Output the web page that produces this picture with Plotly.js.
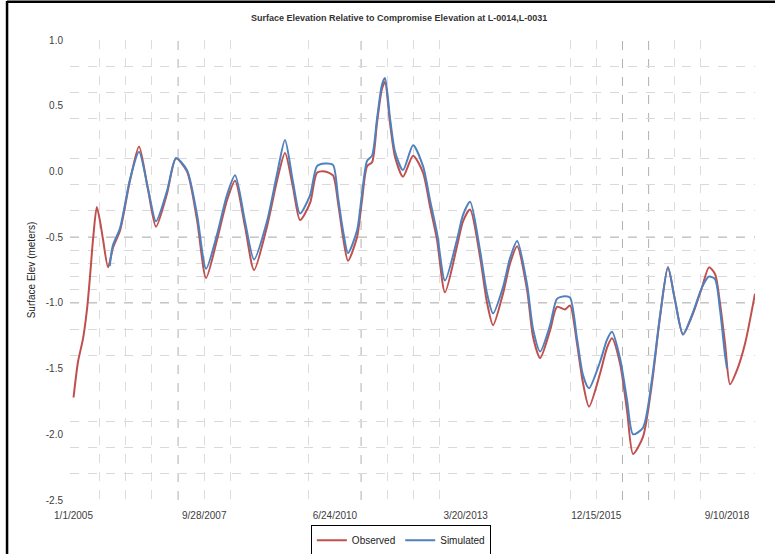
<!DOCTYPE html>
<html>
<head>
<meta charset="utf-8">
<script src="https://cdn.plot.ly/plotly-3.0.1.min.js"></script>
<style>html,body{margin:0;padding:0;background:#fff;}#chart{width:775px;height:554px;}</style>
</head>
<body>
<div id="chart"></div>
<script>
// ---- Data ----
const obsDates = ['2005-01-01','2005-02-04','2005-03-15','2005-04-14','2005-05-07','2005-05-30','2005-06-28','2005-07-23','2005-08-15','2005-09-22','2005-10-30','2005-12-23','2006-03-09','2006-05-17','2006-07-25','2006-09-24','2006-12-17','2007-02-24','2007-05-19','2007-08-04','2007-10-12','2008-01-04','2008-03-20','2008-05-21','2008-08-05','2008-10-13','2009-01-20','2009-04-07','2009-06-07','2009-08-07','2009-09-30','2009-12-16','2010-02-07','2010-04-09','2010-06-09','2010-07-18','2010-08-25','2010-10-02','2010-12-10','2011-01-17','2011-02-25','2011-04-04','2011-05-12','2011-06-19','2011-07-12','2011-08-19','2011-09-27','2011-11-27','2012-02-12','2012-04-28','2012-06-21','2012-08-13','2012-10-13','2013-01-13','2013-02-28','2013-04-23','2013-07-08','2013-08-31','2013-10-16','2013-12-31','2014-02-23','2014-04-18','2014-07-03','2014-08-18','2014-10-11','2014-12-26','2015-02-17','2015-04-19','2015-05-28','2015-07-20','2015-09-04','2015-10-20','2016-01-12','2016-03-06','2016-04-13','2016-06-13','2016-08-06','2016-09-21','2016-12-06','2017-02-13','2017-04-15','2017-06-15','2017-08-08','2017-10-08','2017-12-24','2018-03-03','2018-04-25','2018-06-10','2018-07-18','2018-08-26','2018-10-03','2018-11-26','2019-01-26','2019-04-12'];
const observed = [-1.72,-1.45,-1.27,-1.05,-0.80,-0.52,-0.27,-0.38,-0.52,-0.73,-0.58,-0.45,-0.07,0.19,-0.14,-0.42,-0.17,0.10,0.00,-0.37,-0.81,-0.52,-0.22,-0.07,-0.42,-0.75,-0.42,-0.07,0.14,-0.12,-0.37,-0.24,-0.01,0.00,-0.03,-0.24,-0.50,-0.68,-0.50,-0.22,0.04,0.07,0.37,0.63,0.68,0.37,0.11,-0.04,0.12,-0.01,-0.27,-0.52,-0.92,-0.57,-0.38,-0.29,-0.65,-1.00,-1.17,-0.93,-0.70,-0.57,-0.90,-1.26,-1.42,-1.21,-1.03,-1.05,-1.02,-1.31,-1.61,-1.79,-1.54,-1.34,-1.27,-1.46,-1.82,-2.15,-2.02,-1.61,-1.11,-0.73,-0.98,-1.24,-1.08,-0.88,-0.73,-0.78,-1.00,-1.31,-1.62,-1.51,-1.31,-0.93];

const simDates = ['2005-10-05','2005-10-30','2005-12-23','2006-03-09','2006-05-17','2006-07-25','2006-09-24','2006-12-17','2007-02-24','2007-05-19','2007-08-04','2007-10-12','2008-01-04','2008-03-20','2008-05-21','2008-08-05','2008-10-13','2009-01-20','2009-04-07','2009-06-07','2009-08-07','2009-09-30','2009-12-16','2010-02-07','2010-04-09','2010-06-09','2010-07-18','2010-08-25','2010-10-02','2010-12-10','2011-01-17','2011-02-25','2011-04-04','2011-05-12','2011-06-19','2011-07-12','2011-08-19','2011-09-27','2011-11-27','2012-02-12','2012-04-28','2012-06-21','2012-08-13','2012-10-13','2013-01-13','2013-02-28','2013-04-23','2013-07-08','2013-08-31','2013-10-16','2013-12-31','2014-02-23','2014-04-18','2014-07-03','2014-08-18','2014-10-11','2014-12-26','2015-02-17','2015-04-19','2015-05-28','2015-07-20','2015-09-04','2015-10-20','2016-01-12','2016-03-06','2016-04-13','2016-06-13','2016-08-06','2016-09-21','2016-12-06','2017-02-13','2017-04-15','2017-06-15','2017-08-08','2017-10-08','2017-12-24','2018-03-03','2018-04-25','2018-06-10','2018-07-18','2018-08-26','2018-09-10'];
const simulated = [-0.72,-0.56,-0.43,-0.06,0.15,-0.13,-0.38,-0.15,0.10,0.01,-0.33,-0.74,-0.48,-0.18,-0.03,-0.38,-0.67,-0.38,-0.02,0.24,-0.08,-0.32,-0.18,0.04,0.06,0.05,-0.20,-0.45,-0.62,-0.45,-0.17,0.08,0.12,0.40,0.66,0.71,0.41,0.15,0.01,0.20,0.04,-0.22,-0.47,-0.83,-0.52,-0.33,-0.23,-0.60,-0.93,-1.08,-0.88,-0.66,-0.53,-0.86,-1.20,-1.37,-1.17,-0.97,-0.95,-0.96,-1.27,-1.55,-1.65,-1.45,-1.28,-1.22,-1.42,-1.74,-2.00,-1.95,-1.58,-1.10,-0.73,-0.98,-1.24,-1.07,-0.88,-0.80,-0.82,-1.05,-1.40,-1.50];

const xTickVals = ['2005-01-01','2007-09-28','2010-06-24','2013-03-20','2015-12-15','2018-09-10'];
const xTickText = ['1/1/2005','9/28/2007','6/24/2010','3/20/2013','12/15/2015','9/10/2018'];
const yTickVals = [1.0,0.5,0.0,-0.5,-1.0,-1.5,-2.0,-2.5];
const yTickText = ['1.0','0.5','0.0','-0.5','-1.0','-1.5','-2.0','-2.5'];

// gridline positions visible in the reference
const xGridLight = ['2005-07-20','2006-02-05','2006-08-24','2007-09-28','2008-04-15','2009-12-06','2011-07-29','2012-02-14','2012-09-01','2015-05-29','2015-12-15','2017-08-06','2018-02-22','2019-04-12'];
const xGridDark = ['2007-03-12','2011-01-10','2016-07-02','2017-01-18'];
const yGridLight = [1.0,0.8,0.6,0.4,0.1,-0.1,-0.3,-0.6,-0.7,-0.8,-0.9,-1.2,-1.4,-1.9,-2.1,-2.3];
const yGridDark = [-0.5,-1.0];

const font = 'Liberation Sans, Arial, sans-serif';

const traces = [
  {x: obsDates, y: observed, name: 'Observed', type: 'scatter', mode: 'lines',
   line: {color: '#C0504D', width: 2, shape: 'spline', smoothing: 0.7}},
  {x: simDates, y: simulated, name: 'Simulated', type: 'scatter', mode: 'lines',
   line: {color: '#4F81BD', width: 2, shape: 'spline', smoothing: 0.7}}
];

const shapes = [];
xGridDark.forEach(d => shapes.push({type:'line', xref:'x', yref:'paper', x0:d, x1:d, y0:0, y1:1,
  line:{color:'#b0b0b0', width:1, dash:'dash'}, layer:'below'}));
yGridDark.forEach(v => shapes.push({type:'line', xref:'paper', yref:'y', x0:0, x1:1, y0:v, y1:v,
  line:{color:'#a6a6a6', width:1, dash:'dash'}, layer:'below'}));
// outer frame of the screenshot
shapes.push({type:'line', xref:'paper', yref:'paper', x0:-0.0919, x1:-0.0919, y0:-0.13, y1:1.085,
  line:{color:'#000', width:2.5}});
shapes.push({type:'line', xref:'paper', yref:'paper', x0:-0.0919, x1:1.03, y0:1.083, y1:1.083,
  line:{color:'#000', width:2.5}});

const layout = {
  width: 775, height: 554,
  margin: {l: 70, r: 20, t: 40, b: 54, autoexpand: false},
  paper_bgcolor: '#fff', plot_bgcolor: '#fff',
  font: {family: font, size: 9, color: '#404040'},
  title: {text: '<b>Surface Elevation Relative to Compromise Elevation at L-0014,L-0031</b>',
          font: {family: font, size: 9, color: '#333'},
          x: 0.515, xanchor: 'center', y: 0.968, yanchor: 'middle', yref: 'container'},
  xaxis: {type: 'date', range: ['2004-12-05', '2019-04-12'], automargin: false,
          tickmode: 'array', tickvals: xTickVals, ticktext: xTickText,
          ticks: '', showgrid: false, zeroline: false, showline: false, ticklabelstandoff: 8,
          tickfont: {size: 10, color: '#404040'},
          minor: {tickmode: 'array', tickvals: xGridLight, showgrid: true, gridcolor: '#dcdcdc', griddash: 'dash', gridwidth: 1, ticks: ''}},
  yaxis: {range: [-2.5, 1.0], tickmode: 'array', tickvals: yTickVals, ticktext: yTickText, automargin: false,
          ticks: '', showgrid: false, zeroline: false, showline: false, ticklabelstandoff: 6,
          tickfont: {size: 10, color: '#404040'},
          title: {text: 'Surface Elev (meters)', font: {size: 10, color: '#222'}, standoff: 8},
          minor: {tickmode: 'array', tickvals: yGridLight, showgrid: true, gridcolor: '#d9d9d9', griddash: 'dash', gridwidth: 1, ticks: ''}},
  legend: {orientation: 'h', x: 0.483, xanchor: 'center', y: -0.054, yanchor: 'top',
           bordercolor: '#000', borderwidth: 1, bgcolor: '#fff',
           font: {size: 10, color: '#222'}, itemwidth: 30},
  shapes: shapes,
  showlegend: true
};

Plotly.newPlot('chart', traces, layout, {displayModeBar: false, staticPlot: true});
</script>
</body>
</html>
